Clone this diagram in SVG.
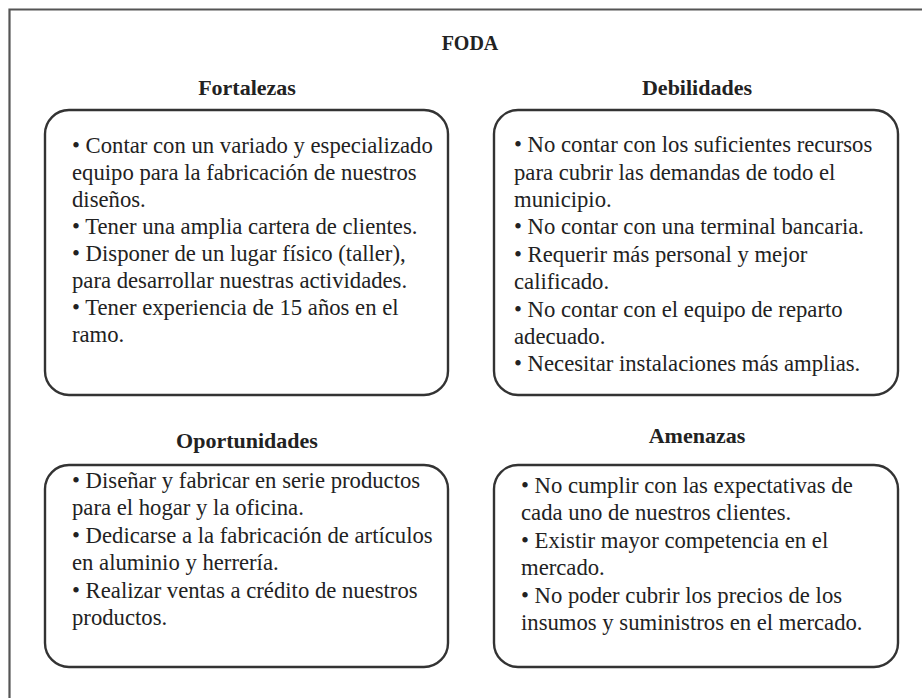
<svg xmlns="http://www.w3.org/2000/svg" width="922" height="698" viewBox="0 0 922 698">
<style>
.frame{fill:none;stroke:#555;stroke-width:2.2}
.box{fill:none;stroke:#333;stroke-width:2.4}
.title{font-family:"Liberation Serif","DejaVu Serif",serif;font-weight:bold;font-size:20px;fill:#222;text-anchor:middle}
.head{font-family:"Liberation Serif","DejaVu Serif",serif;font-weight:bold;font-size:22px;fill:#222;text-anchor:middle}
.body{font-family:"Liberation Serif","DejaVu Serif",serif;font-size:22.7px;fill:#222}
</style>
<rect width="922" height="698" fill="#fff"/>
<g id="frame">
<path class="frame" d="M9.5,698 V9.5 H922"/>
</g>
<g id="title"><text class="title" x="470" y="50">FODA</text></g>
<g id="fortalezas">
<text class="head" x="247" y="95">Fortalezas</text>
<rect class="box" x="45" y="110" width="403" height="285" rx="24"/>
<text class="body">
<tspan x="72" y="153">• Contar con un variado y especializado</tspan>
<tspan x="72" y="180">equipo para la fabricación de nuestros</tspan>
<tspan x="72" y="207">diseños.</tspan>
<tspan x="72" y="234">• Tener una amplia cartera de clientes.</tspan>
<tspan x="72" y="261">• Disponer de un lugar físico (taller),</tspan>
<tspan x="72" y="288">para desarrollar nuestras actividades.</tspan>
<tspan x="72" y="315">• Tener experiencia de 15 años en el</tspan>
<tspan x="72" y="342">ramo.</tspan>
</text>
</g>
<g id="debilidades">
<text class="head" x="697" y="95">Debilidades</text>
<rect class="box" x="494" y="110" width="404" height="285" rx="24"/>
<text class="body">
<tspan x="514" y="152">• No contar con los suficientes recursos</tspan>
<tspan x="514" y="180">para cubrir las demandas de todo el</tspan>
<tspan x="514" y="207">municipio.</tspan>
<tspan x="514" y="234">• No contar con una terminal bancaria.</tspan>
<tspan x="514" y="262">• Requerir más personal y mejor</tspan>
<tspan x="514" y="289">calificado.</tspan>
<tspan x="514" y="317">• No contar con el equipo de reparto</tspan>
<tspan x="514" y="344">adecuado.</tspan>
<tspan x="514" y="371">• Necesitar instalaciones más amplias.</tspan>
</text>
</g>
<g id="oportunidades">
<text class="head" x="247" y="448">Oportunidades</text>
<rect class="box" x="45" y="465" width="403" height="202" rx="24"/>
<text class="body">
<tspan x="72" y="488">• Diseñar y fabricar en serie productos</tspan>
<tspan x="72" y="515">para el hogar y la oficina.</tspan>
<tspan x="72" y="543">• Dedicarse a la fabricación de artículos</tspan>
<tspan x="72" y="570">en aluminio y herrería.</tspan>
<tspan x="72" y="598">• Realizar ventas a crédito de nuestros</tspan>
<tspan x="72" y="625">productos.</tspan>
</text>
</g>
<g id="amenazas">
<text class="head" x="697" y="443">Amenazas</text>
<rect class="box" x="494" y="465" width="404" height="202" rx="24"/>
<text class="body">
<tspan x="521" y="493">• No cumplir con las expectativas de</tspan>
<tspan x="521" y="520">cada uno de nuestros clientes.</tspan>
<tspan x="521" y="548">• Existir mayor competencia en el</tspan>
<tspan x="521" y="575">mercado.</tspan>
<tspan x="521" y="603">• No poder cubrir los precios de los</tspan>
<tspan x="521" y="630">insumos y suministros en el mercado.</tspan>
</text>
</g>
<g id="connectors"></g>
</svg>
